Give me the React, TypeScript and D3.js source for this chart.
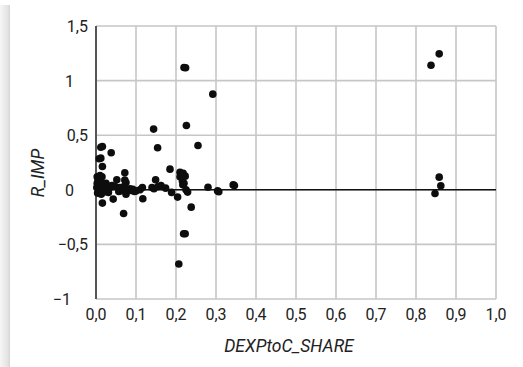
import { scaleLinear } from "d3";

// scatter values
const shareX = [
    0.858, 0.8375, 0.858, 0.862, 0.8475,
    0.224, 0.22, 0.292, 0.226, 0.144, 0.255, 0.154, 0.185, 0.21, 0.218, 0.223, 0.21, 0.149, 0.216, 0.22,
    0.217, 0.229, 0.225, 0.346, 0.343, 0.28, 0.307, 0.304, 0.238, 0.204, 0.223, 0.219, 0.207, 0.14,
    0.1625, 0.174, 0.189, 0.155, 0.145,
    0.016, 0.012, 0.038, 0.008, 0.012, 0.016, 0.072, 0.052, 0.075, 0.072, 0.069, 0.016, 0.043, 0.117,
    0.096, 0.1, 0.116, 0.077, 0.0875, 0.075, 0.057, 0.031, 0.027, 0.04, 0.048, 0.06, 0.065, 0.003, 0.005,
    0.01, 0.015, 0.003, 0.008, 0.012, 0.018, 0.002, 0.006, 0.011, 0.016, 0.004, 0.013, 0.02, 0.022, 0.025,
    0.03, 0.035, 0.085, 0.092, 0.11, 0.06, 0.07,
];
const rImp = [
    1.245, 1.14, 0.116, 0.037, -0.034,
    1.117, 1.12, 0.876, 0.589, 0.556, 0.406, 0.385, 0.189, 0.16, 0.15, 0.125, 0.12, 0.092, 0.08, 0.06,
    0.046, -0.021, 0.0, 0.04, 0.045, 0.024, -0.018, -0.01, -0.159, -0.067, -0.403, -0.403, -0.68, 0.02,
    0.04, 0.015, -0.024, 0.03, 0.01,
    0.397, 0.39, 0.339, 0.284, 0.29, 0.214, 0.156, 0.092, 0.067, 0.09, -0.217, -0.122, -0.085, -0.082,
    -0.015, -0.01, 0.02, 0, -0.006, -0.04, -0.015, -0.024, 0.015, 0.04, 0.03, 0.02, 0.0, 0.12, 0.09,
    0.13, 0.12, 0.06, 0.04, 0.07, 0.05, 0.02, 0.0, -0.01, 0.01, -0.03, -0.04, -0.02, 0.03, 0.06,
    0.0, 0.02, 0.01, 0.005, 0.0, -0.01, 0.03,
];

const xTicks = [0, 0.1, 0.2, 0.3, 0.4, 0.5, 0.6, 0.7, 0.8, 0.9, 1.0];
const yTicks = [-1, -0.5, 0, 0.5, 1, 1.5];

const W = 523;
const H = 367;
const font = "Roboto, 'DejaVu Sans', sans-serif";

const fmtX = (v: number) => v.toFixed(1).replace(".", ",");
const fmtY = (v: number) => {
    const s = Number.isInteger(v) ? String(Math.abs(v)) : String(Math.abs(v)).replace(".", ",");
    return (v < 0 ? "\u2212" : "") + s;
};

export default function App() {
    const x = scaleLinear().domain([0, 1]).range([96, 496]);
    const y = scaleLinear().domain([-1, 1.5]).range([299, 26]);

    return (
        <div style={{ position: "fixed", left: 0, top: 0 }}>
            <svg width={W} height={H} style={{ display: "block", background: "#fff" }}>
                <defs>
                    <linearGradient id="edge" x1="0" x2="1" y1="0" y2="0">
                        <stop offset="0" stopColor="#f6f6f6" />
                        <stop offset="0.8" stopColor="#e2e2e2" />
                        <stop offset="1" stopColor="#d4d4d4" />
                    </linearGradient>
                    <filter id="soft">
                        <feGaussianBlur stdDeviation="0.35" />
                    </filter>
                </defs>
                <rect x={0} y={5} width={10} height={H - 5} fill="url(#edge)" />

                {/* grid */}
                {xTicks.slice(1).map((t) => (
                    <line key={"gx" + t} x1={x(t)} x2={x(t)} y1={y(1.5)} y2={y(-1)} stroke="#c6c6c6" strokeWidth={1.6} />
                ))}
                {yTicks.map((t) => (
                    <line key={"gy" + t} x1={x(0)} x2={x(1)} y1={y(t)} y2={y(t)} stroke="#c6c6c6" strokeWidth={1.6} />
                ))}
                <line x1={x(0)} x2={x(1)} y1={y(0)} y2={y(0)} stroke="#111" strokeWidth={1.6} />
                <line x1={x(0)} x2={x(0)} y1={y(1.5)} y2={y(-1)} stroke="#555" strokeWidth={2} />

                {/* points */}
                <g filter="url(#soft)">
                    {shareX.map((v, i) => (
                        <circle key={i} cx={x(v)} cy={y(rImp[i])} r={3.8} fill="#111" />
                    ))}
                </g>

                {/* tick labels: integers sit where the leading digit of "x,5" would */}
                {yTicks.map((t) => (
                    <text
                        key={"ty" + t}
                        x={Number.isInteger(t) ? (t < 0 ? 71 : 74) : 88}
                        y={y(t) + 6}
                        textAnchor="end"
                        fontFamily={font}
                        fontSize={16}
                        fill="#222"
                    >
                        {fmtY(t)}
                    </text>
                ))}
                {xTicks.map((t) => (
                    <text key={"tx" + t} x={x(t)} y={320} textAnchor="middle" fontFamily={font} fontSize={16} fill="#222">
                        {fmtX(t)}
                    </text>
                ))}

                <text x={289} y={352} textAnchor="middle" fontFamily={font} fontSize={17.5} fontStyle="italic" fill="#222">
                    DEXPtoC_SHARE
                </text>
                <text
                    transform={`translate(44,173) rotate(-90)`}
                    textAnchor="middle"
                    fontFamily={font}
                    fontSize={17.5}
                    fontStyle="italic"
                    fill="#222"
                >
                    R_IMP
                </text>
            </svg>
        </div>
    );
}
